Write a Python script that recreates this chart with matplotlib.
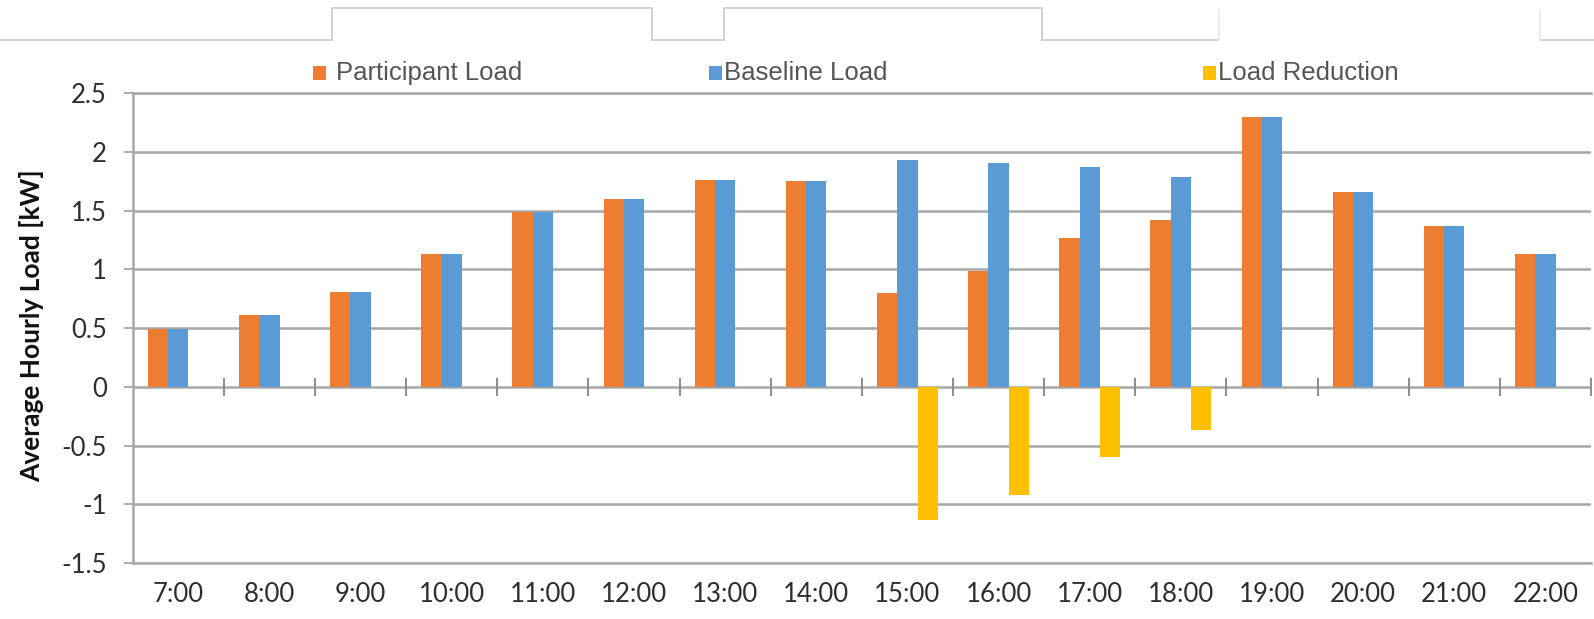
import matplotlib
matplotlib.use("Agg")
import matplotlib.pyplot as plt
from matplotlib.patches import Rectangle
from matplotlib.lines import Line2D
import numpy as np

hours = ["7:00", "8:00", "9:00", "10:00", "11:00", "12:00", "13:00", "14:00",
         "15:00", "16:00", "17:00", "18:00", "19:00", "20:00", "21:00", "22:00"]
participant = [0.49, 0.61, 0.81, 1.13, 1.49, 1.60, 1.76, 1.75,
               0.80, 0.99, 1.27, 1.42, 2.30, 1.66, 1.37, 1.13]
baseline = [0.49, 0.61, 0.81, 1.13, 1.49, 1.60, 1.76, 1.75,
            1.93, 1.91, 1.87, 1.79, 2.30, 1.66, 1.37, 1.13]
reduction = [0, 0, 0, 0, 0, 0, 0, 0,
             -1.13, -0.92, -0.60, -0.37, 0, 0, 0, 0]

cOrange = "#ED7D31"
cBlue = "#5B9BD5"
cYellow = "#FFC000"
cGrid = "#a8a8a8"
cFrame = "#cfcfcf"

W, H = 1594, 619
fig = plt.figure(figsize=(W / 100, H / 100), dpi=100)
fig.patch.set_facecolor("white")

def fx(x):
    return x / W

def fy(y):
    return 1 - y / H

ax = fig.add_axes([fx(132.7), fy(563), (1591 - 132.7) / W, (563 - 93.3) / H])

# clustered columns, Excel style (gap width 150%)
x = np.arange(len(hours))
bw = 1 / 4.5
ax.bar(x - bw, participant, bw, color=cOrange, linewidth=0, zorder=3)
ax.bar(x, baseline, bw, color=cBlue, linewidth=0, zorder=3)
ax.bar(x + bw, reduction, bw, color=cYellow, linewidth=0, zorder=3)

ax.set_xlim(-0.5, len(hours) - 0.5)
ax.set_ylim(-1.5, 2.5)
ax.set_yticks(np.arange(-1.5, 2.51, 0.5))
ax.set_yticklabels(["-1.5", "-1", "-0.5", "0", "0.5", "1", "1.5", "2", "2.5"])
ax.set_xticks(x)
ax.set_xticklabels(hours)

ax.grid(axis="y", color=cGrid, linewidth=1.8, zorder=1)
ax.set_axisbelow(True)
ax.spines["right"].set_visible(False)
for s in ("left", "top", "bottom"):
    ax.spines[s].set_color(cGrid)
    ax.spines[s].set_linewidth(1.8)

ax.tick_params(axis="y", direction="out", length=6.5, width=1.3, color=cGrid,
               pad=12, labelsize=18.5, labelcolor="#2e2e2e")
ax.tick_params(axis="x", length=0, pad=14, labelsize=18.5, labelcolor="#2e2e2e")
for lab in ax.get_xticklabels() + ax.get_yticklabels():
    lab.set_family("Lato")

# category tick marks crossing the zero line
bounds = np.arange(0.5, len(hours), 1.0)
ax.plot(bounds, np.zeros_like(bounds), linestyle="none", marker="|",
        markersize=13, markeredgewidth=1.4, color="#8c8c8c", clip_on=False, zorder=4)

ax.set_ylabel("Average Hourly Load [kW]", fontsize=19, fontweight="bold",
              family="Lato", color="#111111", va="center")
ax.yaxis.set_label_coords((32 - 132.7) / (1591 - 132.7), 0.505)

# legend row above the plot
legend = [("Participant Load", cOrange, 313, 336),
          ("Baseline Load", cBlue, 709, 724),
          ("Load Reduction", cYellow, 1203, 1218)]
for name, col, sx, tx in legend:
    fig.add_artist(Rectangle((fx(sx), fy(80)), 13 / W, 14 / H, transform=fig.transFigure,
                             facecolor=col, edgecolor="none"))
    fig.text(fx(tx), fy(73), name, fontsize=18.5, family="Liberation Sans",
             color="#555555", ha="left", va="center")

# tab outline along the top edge
tabs = [[(0, 40), (332, 40)], [(332, 40), (332, 8), (652, 8), (652, 40)],
        [(652, 40), (724, 40)], [(724, 40), (724, 8), (1042, 8), (1042, 40)],
        [(1042, 40), (1219, 40)], [(1540, 40), (W, 40)]]
for seg in tabs:
    xs = [fx(p[0]) for p in seg]
    ys = [fy(p[1]) for p in seg]
    fig.add_artist(Line2D(xs, ys, transform=fig.transFigure, color=cFrame, linewidth=1.3))
for xe in (1219, 1540):
    fig.add_artist(Line2D([fx(xe), fx(xe)], [fy(40), fy(10)], transform=fig.transFigure,
                          color="#ececec", linewidth=1.3))

fig.savefig("out.png", dpi=100, facecolor="white")
